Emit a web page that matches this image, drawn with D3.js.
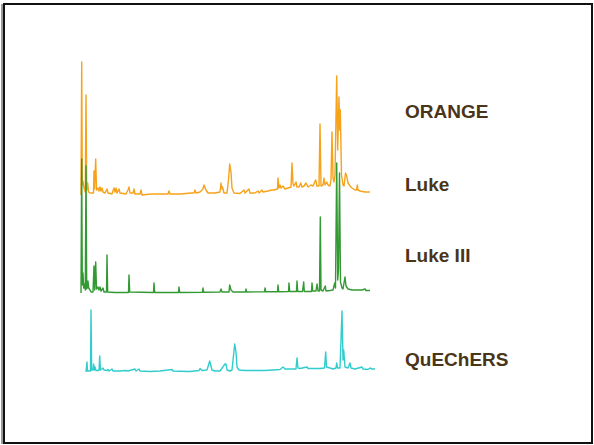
<!DOCTYPE html>
<html>
<head>
<meta charset="utf-8">
<script src="https://cdn.jsdelivr.net/npm/d3@7/dist/d3.min.js"></script>
<style>
html,body{margin:0;padding:0;background:#fff;}
svg{display:block;}
</style>
</head>
<body>
<svg id="chart" width="594" height="445"></svg>
<script>
// Series labels
const labels = ["ORANGE", "Luke", "Luke III", "QuEChERS"];

// Chromatogram traces: [retention time (min), intensity (a.u.)]
const orange = [
[0,0],[0.07,133],[0.13,10],[0.2,14],[0.3,7],[0.43,3],[0.5,100],[0.57,5],[0.67,12],[0.75,3],[0.9,2],
[1.25,2],[1.3,24],[1.35,6],[1.47,36],[1.55,5],[1.7,7],[1.8,4],[1.9,8],[2.0,4],[2.1,7],[2.2,3],[2.4,2],
[2.6,6],[2.7,2],[3.1,1],[3.3,7],[3.4,3],[3.5,7],[3.6,2],[3.8,6],[3.9,2],[4.5,1],[4.7,5],[4.8,8],[4.9,2],
[5.2,2],[5.3,6],[5.4,1],[5.9,1],[6.0,5],[6.1,0],[7.0,1],[8.0,1],[8.7,1],[8.8,4],[8.9,1],[10.0,1],[11.0,2],
[11.3,2],[11.4,5],[11.5,2],[11.9,3],[12.2,6],[12.3,10],[12.5,5],[12.7,2],[13.4,2],[13.9,3],[14.0,12],
[14.1,6],[14.15,8],[14.3,2],[14.6,2],[14.75,15],[14.87,31],[15.0,23],[15.1,7],[15.3,2],[15.9,1.5],
[16.3,5],[16.4,2],[16.8,6],[16.9,2],[17.4,2],[17.7,4],[17.8,2],[18.1,5],[18.2,3],[18.7,4],[19.1,5],
[19.3,5],[19.65,6],[19.7,17],[19.8,7],[19.9,10],[20.0,7],[20.2,9],[20.4,6],[20.7,7],[21.0,8],[21.1,32],
[21.2,11],[21.3,9],[21.5,13],[21.6,8],[21.8,8],[21.97,12],[22.1,8],[22.3,9],[22.5,12],[22.7,8],[23.0,10],
[23.2,9],[23.47,15],[23.6,9],[23.8,9],[23.9,71],[24.0,9],[24.2,10],[24.3,17],[24.4,10],[24.57,13],
[24.7,10],[24.9,9],[25.0,15],[25.1,63],[25.2,17],[25.3,13],[25.4,20],[25.57,119],[25.67,45],[25.8,98],
[25.87,65],[25.93,85],[26.05,20],[26.2,10],[26.3,9],[26.45,22],[26.57,19],[26.7,12],[26.9,9],[27.1,7],
[27.4,5],[27.55,5],[27.63,10],[27.7,5],[27.9,4],[28.4,3],[28.9,3]
];

const lukeIII = [
[0,0],[0.07,134],[0.13,8],[0.2,20],[0.27,5],[0.35,9],[0.43,3],[0.5,127],[0.57,4],[0.65,6],[0.7,12],
[0.77,5],[0.9,3],[1.0,1],[1.2,1],[1.3,27],[1.37,3],[1.47,31],[1.55,4],[1.7,6],[1.8,3],[1.9,6],[2.0,2],
[2.2,5],[2.3,1],[2.55,1],[2.6,38],[2.67,1],[3.4,0.5],[4.75,0.5],[4.8,18],[4.87,1],[7.25,0.5],[7.3,10],
[7.37,0.5],[9.75,0.5],[9.8,6],[9.87,0.5],[12.15,0.8],[12.2,5],[12.27,0.8],[13.9,1],[14.0,4],[14.1,1],
[14.8,1],[14.87,8],[15.0,3],[15.2,1],[16.45,1],[16.5,4],[16.57,1],[18.35,1.2],[18.4,5],[18.47,1.2],
[19.65,1.2],[19.7,8],[19.77,1.2],[20.75,1.5],[20.8,10],[20.87,1.5],[21.55,1.5],[21.6,12],[21.67,1.5],
[22.15,1.5],[22.27,11],[22.33,1.5],[23.05,1.5],[23.1,10],[23.17,2],[23.5,2],[23.6,9],[23.7,2],[23.85,2],
[23.93,76],[24.0,3],[24.2,2],[24.43,7],[24.5,2],[24.9,2.5],[25.2,3],[25.37,10],[25.45,5],[25.57,130],
[25.67,13],[25.75,23],[25.85,120],[25.95,11],[26.1,5],[26.2,4],[26.4,16],[26.5,7],[26.7,4],[27.1,3],
[27.4,3],[28.1,3],[28.4,4],[28.5,2.5],[28.9,2.5]
];

const quechers = [
[0.5,0],[0.6,10],[0.65,1],[0.95,1],[1.0,62],[1.07,2],[1.2,2],[1.27,8],[1.33,2],[1.4,5],[1.5,1.5],
[1.8,1.5],[1.87,16],[1.95,2],[2.1,3],[2.2,4],[2.3,2],[2.6,1.5],[2.7,2.5],[2.8,1],[3.1,3],[3.2,1],
[3.9,1],[4.4,1.5],[4.7,1],[5.4,3],[5.5,1],[5.8,3],[5.9,1],[6.9,0.5],[7.9,1],[9.1,2.5],[9.2,1],[9.9,0.8],
[10.9,0.5],[11.8,1.5],[11.9,3.5],[12.1,1.5],[12.6,2],[12.87,11],[13.1,2],[13.4,1],[13.9,1],[14.4,8],
[14.5,8],[14.6,2],[14.9,1],[15.1,2],[15.37,28],[15.5,20],[15.6,5],[15.8,2],[16.4,1.5],[17.4,1.5],
[18.4,1.5],[19.9,2.5],[20.2,5],[20.4,3],[21.5,3],[21.6,14],[21.7,4],[21.9,3.5],[22.6,5],[22.7,3.5],
[23.9,3.5],[24.35,4],[24.47,20],[24.55,5],[24.9,4],[25.2,3],[25.5,4],[25.57,9],[25.65,4],[25.9,4],
[26.1,61],[26.2,12],[26.27,22],[26.4,5],[26.7,4],[26.9,9],[27.0,4],[27.4,3],[28.1,5],[28.2,3],[28.7,2.5],
[28.9,4],[29.1,3],[29.4,3]
];

const svg = d3.select("#chart");

// frame
svg.append("line").attr("x1",2).attr("y1",4).attr("x2",2).attr("y2",444)
  .attr("stroke","#999").attr("stroke-width",2);
svg.append("rect").attr("x",4).attr("y",4).attr("width",588).attr("height",439)
  .attr("fill","none").attr("stroke","#111").attr("stroke-width",2);

const x = d3.scaleLinear().domain([0, 29.1]).range([81, 372]);
const traces = [
  {data: orange,   color: "#f7a21b", base: 195},
  {data: lukeIII,  color: "#339933", base: 293},
  {data: quechers, color: "#33cccc", base: 372}
];

traces.forEach(t => {
  const y = d3.scaleLinear().domain([0, 135]).range([t.base, t.base - 135]);
  const line = d3.line().x(d => x(d[0])).y(d => y(d[1]));
  svg.append("path").datum(t.data)
    .attr("d", line)
    .attr("fill","none")
    .attr("stroke", t.color)
    .attr("stroke-width", 1.4)
    .attr("stroke-linejoin","round");
});

const labelY = [118, 191, 262, 366];
svg.selectAll("text.lbl").data(labels).enter().append("text")
  .attr("class","lbl")
  .attr("x", 405)
  .attr("y", (d,i) => labelY[i])
  .attr("font-family","'Liberation Sans', Arial, sans-serif")
  .attr("font-weight","bold")
  .attr("font-size", 19)
  .attr("fill","#4a3519")
  .text(d => d);
</script>
</body>
</html>
